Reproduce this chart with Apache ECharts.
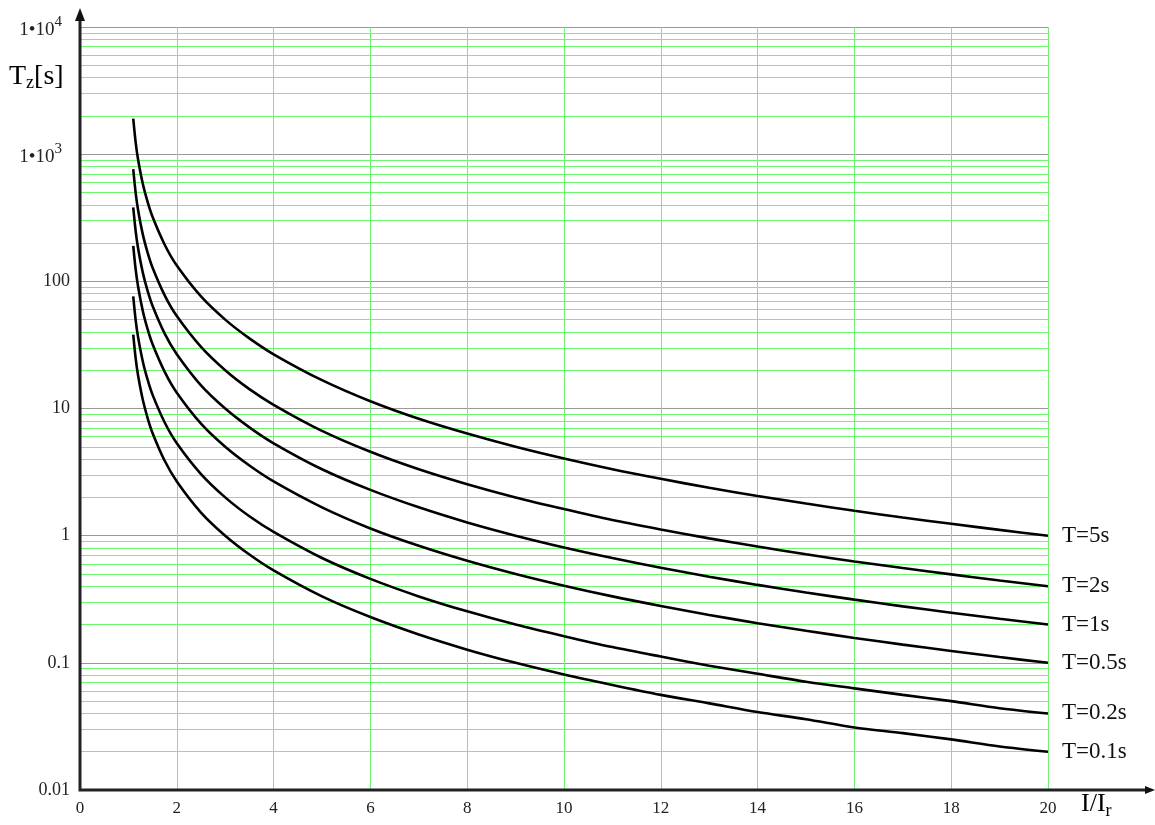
<!DOCTYPE html>
<html><head><meta charset="utf-8">
<script src="https://cdn.jsdelivr.net/npm/echarts@6/dist/echarts.min.js"></script>
<style>html,body{margin:0;padding:0;background:#fff}#c{width:1155px;height:825px}</style>
</head><body><div id="c"></div>
<script>
// I/Ir values (x)
const xs = [1.1,1.15,1.2,1.3,1.4,1.5,1.75,2,2.5,3,3.5,4,5,6,7,8,9,10,11,12,13,14,15,16,17,18,19,20];
// tripping times Tz [s]
const t5  = [1905,1240,909,580,417,320,194,133,76,50,35.6,26.7,16.7,11.4,8.3,6.35,5.0,4.04,3.33,2.80,2.38,2.05,1.79,1.57,1.39,1.24,1.11,1.0];
const t2  = [762,496,364,232,167,128,77.6,53.3,30.5,20,14.2,10.7,6.67,4.57,3.33,2.54,2.0,1.62,1.33,1.12,0.952,0.821,0.714,0.627,0.556,0.496,0.444,0.40];
const t1  = [381,248,182,116,83.3,64,38.8,26.7,15.2,10,7.11,5.33,3.33,2.29,1.67,1.27,1.0,0.808,0.667,0.559,0.476,0.410,0.357,0.314,0.278,0.248,0.222,0.2];
const t05 = [190,124,91,58,41.7,32,19.4,13.3,7.6,5,3.56,2.67,1.67,1.14,0.833,0.635,0.5,0.404,0.333,0.280,0.238,0.205,0.179,0.157,0.139,0.124,0.111,0.1];
const t02 = [76.2,49.6,36.4,23.2,16.7,12.8,7.76,5.33,3.05,2.0,1.42,1.07,0.667,0.457,0.333,0.254,0.2,0.162,0.133,0.112,0.095,0.082,0.071,0.063,0.056,0.050,0.044,0.040];
const t01 = [38.1,24.8,18.2,11.6,8.33,6.4,3.88,2.67,1.52,1.0,0.711,0.533,0.333,0.229,0.167,0.127,0.1,0.081,0.067,0.056,0.048,0.041,0.036,0.031,0.028,0.025,0.022,0.020];
const seriesNames = ['T=5s','T=2s','T=1s','T=0.5s','T=0.2s','T=0.1s'];
const seriesData = [t5,t2,t1,t05,t02,t01];
// axis tick labels
const yTickLabels = {'0.01':'0.01','0.1':'0.1','1':'1','10':'10','100':'100','1000':'{a|1•10}{s|3}','10000':'{a|1•10}{s|4}'};
const xTickLabels = ['0','2','4','6','8','10','12','14','16','18','20'];
// minor log grid lines (2..9 per decade)
const decades = [0.01,0.1,1,10,100,1000];
const minorMult = [2,3,4,5,6,7,8,9];

const FONT = 'Liberation Serif';
const chart = echarts.init(document.getElementById('c'));
const minorLines = [];
decades.forEach(d => minorMult.forEach(m => minorLines.push({yAxis: +(d*m).toPrecision(3)})));

const series = seriesData.map((arr, i) => ({
  name: seriesNames[i], type: 'line', data: xs.map((x, j) => [x, arr[j]]),
  smooth: 0.3, symbol: 'none', lineStyle: {color: '#000', width: 2.6}, z: 5,
  endLabel: {show: true, formatter: seriesNames[i], color: '#111', fontFamily: FONT, fontSize: 23, distance: 14}
}));
series.push({
  type: 'line', data: [], silent: true, z: 1,
  markLine: {silent: true, symbol: 'none', label: {show: false},
    lineStyle: {color: '#6cf86c', width: 1, type: 'solid', opacity: 1}, data: minorLines, animation: false}
});

chart.setOption({
  animation: false,
  grid: {left: 80, right: 107, top: 27, bottom: 35},
  xAxis: {
    type: 'value', min: 0, max: 20, interval: 2,
    axisLine: {show: false},
    axisTick: {show: false},
    axisLabel: {fontFamily: FONT, fontSize: 17, color: '#222', margin: 10,
      formatter: v => xTickLabels[Math.round(v/2)]},
    splitLine: {show: true, lineStyle: {color: ['#70f070'], width: 1, opacity: 1}}
  },
  yAxis: {
    type: 'log', logBase: 10, min: 0.01, max: 10000,
    axisLine: {show: false},
    axisTick: {show: false},
    axisLabel: {fontFamily: FONT, fontSize: 18, color: '#222', margin: 10,
      formatter: v => yTickLabels[String(+v.toPrecision(3))] || '',
      rich: {a: {fontFamily: FONT, fontSize: 19, color: '#222', padding: [6,0,0,0]},
             s: {fontFamily: FONT, fontSize: 15, color: '#222', padding: [0,8,10,0]}}},
    splitLine: {show: true, lineStyle: {color: ['#999999'], width: 1}}
  },
  series: series
});

// axis lines with arrows and axis titles
const o = chart.convertToPixel({gridIndex: 0}, [0, 0.01]);
const tr = chart.convertToPixel({gridIndex: 0}, [20, 10000]);
chart.setOption({graphic: [
  {type: 'polyline', z: 100, shape: {points: [[o[0], tr[1] - 10], [o[0], o[1]], [1150, o[1]]]},
   style: {stroke: '#222', lineWidth: 3, fill: null}},
  {type: 'polygon', z: 101, shape: {points: [[o[0]-5, tr[1]-6], [o[0], tr[1]-19], [o[0]+5, tr[1]-6]]}, style: {fill: '#111'}},
  {type: 'polygon', z: 101, shape: {points: [[1145, o[1]-4], [1155, o[1]], [1145, o[1]+4]]}, style: {fill: '#111'}},
  {type: 'text', z: 102, left: 9, top: 63, style: {
    text: '{T|T}{z|z}{b|[s]}',
    rich: {T: {fontFamily: FONT, fontSize: 28, color: '#222'},
           z: {fontFamily: FONT, fontSize: 18, color: '#222', padding: [12,0,0,0]},
           b: {fontFamily: FONT, fontSize: 28, color: '#222'}}}},
  {type: 'text', z: 102, left: 1081, top: 791, style: {
    text: '{T|I/I}{r|r}',
    rich: {T: {fontFamily: FONT, fontSize: 26, color: '#222'},
           r: {fontFamily: FONT, fontSize: 18, color: '#222', padding: [14,0,0,0]}}}}
]});
</script></body></html>
